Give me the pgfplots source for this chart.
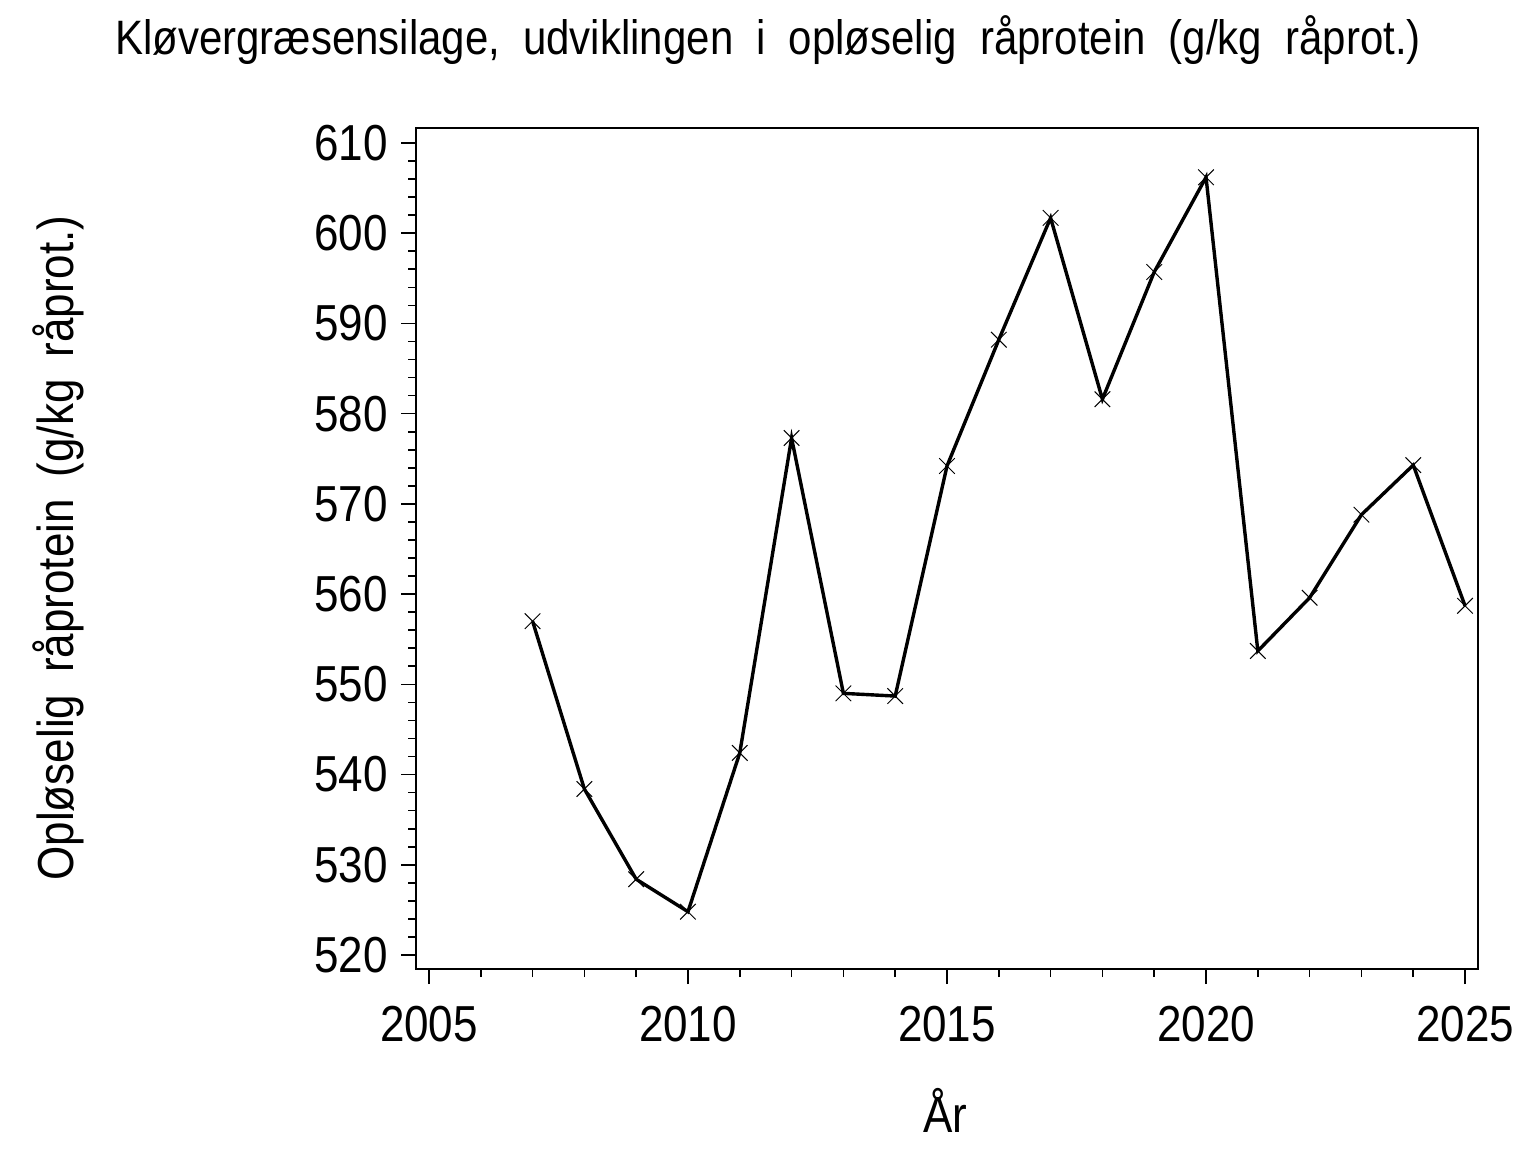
\documentclass[border=0pt]{standalone}
\usepackage{fontspec}
\setmainfont{Liberation Sans}
\usepackage{pgfplots}
\pgfplotsset{compat=1.18}

\begin{document}
\begin{tikzpicture}[x=1pt,y=1pt]
  % page 1536x1152 px at 0.5pt per px
  \path[use as bounding box] (0,0) rectangle (768,576);
  \begin{axis}[
      at={(208pt,91.5pt)}, anchor=south west,
      scale only axis, width=531pt, height=420.5pt,
      xmin=2004.75, xmax=2025.25, ymin=518.45, ymax=611.66,
      xtick={2005,2010,...,2025}, minor xtick={2006,2007,...,2024},
      ytick={520,530,...,610}, minor ytick={520,522,...,610},
      xtick pos=left, ytick pos=left, tick align=outside,
      major tick length=7.5pt, minor tick length=4pt,
      axis line style={line width=0.8pt}, every tick/.style={black,line width=0.8pt},
      /pgf/number format/assume math mode=true,
      /pgf/number format/1000 sep={},
      tick label style={font=\fontsize{22}{24}\selectfont, yscale=1.15},
      xticklabel style={yshift=-6pt},
      yticklabel style={xshift=-3pt},
    ]
    \addplot[black, line width=1.7pt, mark=x, mark size=5.5pt,
             mark options={line width=0.5pt}] coordinates {
      (2007,557.0) (2008,538.4) (2009,528.4) (2010,524.8) (2011,542.4)
      (2012,577.3) (2013,549.0) (2014,548.7) (2015,574.2) (2016,588.2)
      (2017,601.7) (2018,581.6) (2019,595.7) (2020,606.2) (2021,553.7)
      (2022,559.6) (2023,568.8) (2024,574.3) (2025,558.7)};
  \end{axis}
  \node[font=\fontsize{21}{24}\selectfont, yscale=1.15] at (384,556)
    {\spaceskip=0.55em Kløvergræsensilage, udviklingen i opløselig råprotein (g/kg råprot.)};
  \node[font=\fontsize{22}{24}\selectfont, rotate=90, yscale=1.15] at (29,302)
    {\spaceskip=0.5em Opløselig råprotein (g/kg råprot.)};
  \node[font=\fontsize{22}{24}\selectfont, yscale=1.15] at (472.5,21) {År};
\end{tikzpicture}
\end{document}
